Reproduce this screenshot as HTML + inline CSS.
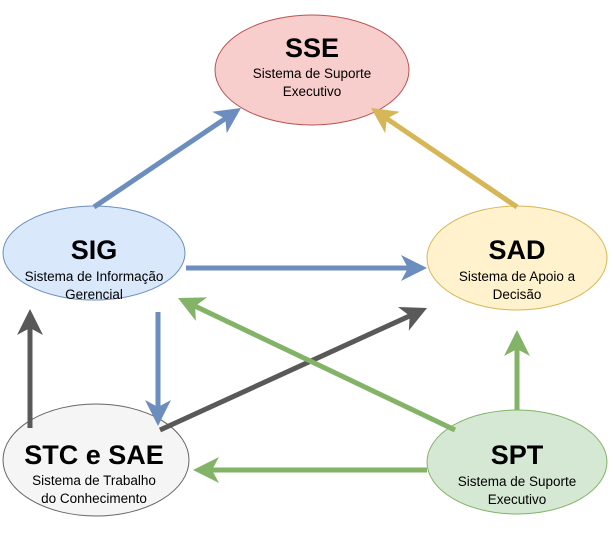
<!DOCTYPE html>
<html><head><style>body{margin:0;background:#fff}svg{display:block}text{font-family:"Liberation Sans",Arial,sans-serif;fill:#000;text-anchor:middle}</style></head>
<body>
<svg width="613" height="538" viewBox="0 0 613 538" xmlns="http://www.w3.org/2000/svg">
<defs>
<marker id="mb" markerUnits="userSpaceOnUse" markerWidth="26" markerHeight="26" viewBox="0 0 26 26" refX="12" refY="13" orient="auto"><path d="M0,0 L26,13 L0,26 L7,13 z" fill="#6c8ebf"/></marker>
<marker id="my" markerUnits="userSpaceOnUse" markerWidth="26" markerHeight="26" viewBox="0 0 26 26" refX="12" refY="13" orient="auto"><path d="M0,0 L26,13 L0,26 L7,13 z" fill="#d6b656"/></marker>
<marker id="mg" markerUnits="userSpaceOnUse" markerWidth="26" markerHeight="26" viewBox="0 0 26 26" refX="12" refY="13" orient="auto"><path d="M0,0 L26,13 L0,26 L7,13 z" fill="#595959"/></marker>
<marker id="mn" markerUnits="userSpaceOnUse" markerWidth="26" markerHeight="26" viewBox="0 0 26 26" refX="12" refY="13" orient="auto"><path d="M0,0 L26,13 L0,26 L7,13 z" fill="#82b366"/></marker>
</defs>
<ellipse cx="312" cy="70" rx="97" ry="55" fill="#f8cecc" stroke="#b85450"/>
<ellipse cx="94" cy="253" rx="91" ry="47" fill="#dae8fc" stroke="#6c8ebf"/>
<ellipse cx="517" cy="258" rx="90" ry="52" fill="#fff2cc" stroke="#d6b656"/>
<ellipse cx="96" cy="460" rx="93" ry="56" fill="#f5f5f5" stroke="#666666"/>
<ellipse cx="517" cy="462" rx="90" ry="52" fill="#d5e8d4" stroke="#82b366"/>
<g stroke-width="5" fill="none">
<line x1="94" y1="207" x2="229.4" y2="115.8" stroke="#6c8ebf" marker-end="url(#mb)"/>
<line x1="186" y1="268" x2="413" y2="268" stroke="#6c8ebf" marker-end="url(#mb)"/>
<line x1="158" y1="312" x2="158" y2="412" stroke="#6c8ebf" marker-end="url(#mb)"/>
<line x1="517" y1="207" x2="382.6" y2="115.8" stroke="#d6b656" marker-end="url(#my)"/>
<line x1="30" y1="428" x2="30" y2="323" stroke="#595959" marker-end="url(#mg)"/>
<line x1="160" y1="430" x2="414.3" y2="313.8" stroke="#595959" marker-end="url(#mg)"/>
<line x1="517" y1="410" x2="517" y2="344" stroke="#82b366" marker-end="url(#mn)"/>
<line x1="455" y1="430" x2="190.6" y2="304" stroke="#82b366" marker-end="url(#mn)"/>
<line x1="427" y1="470" x2="207" y2="470" stroke="#82b366" marker-end="url(#mn)"/>
</g>
<g font-size="13.5">
<text x="312" y="57" font-size="27" font-weight="bold">SSE</text>
<text x="312" y="78">Sistema de Suporte</text>
<text x="312" y="96">Executivo</text>
<text x="94" y="259" font-size="27" font-weight="bold">SIG</text>
<text x="94" y="281">Sistema de Informação</text>
<text x="94" y="299">Gerencial</text>
<text x="517" y="259" font-size="27" font-weight="bold">SAD</text>
<text x="517" y="281">Sistema de Apoio a</text>
<text x="517" y="299">Decisão</text>
<text x="94" y="464" font-size="27" font-weight="bold">STC e SAE</text>
<text x="94" y="485">Sistema de Trabalho</text>
<text x="94" y="503">do Conhecimento</text>
<text x="517" y="464" font-size="27" font-weight="bold">SPT</text>
<text x="517" y="486">Sistema de Suporte</text>
<text x="517" y="504">Executivo</text>
</g>
</svg>
</body></html>
